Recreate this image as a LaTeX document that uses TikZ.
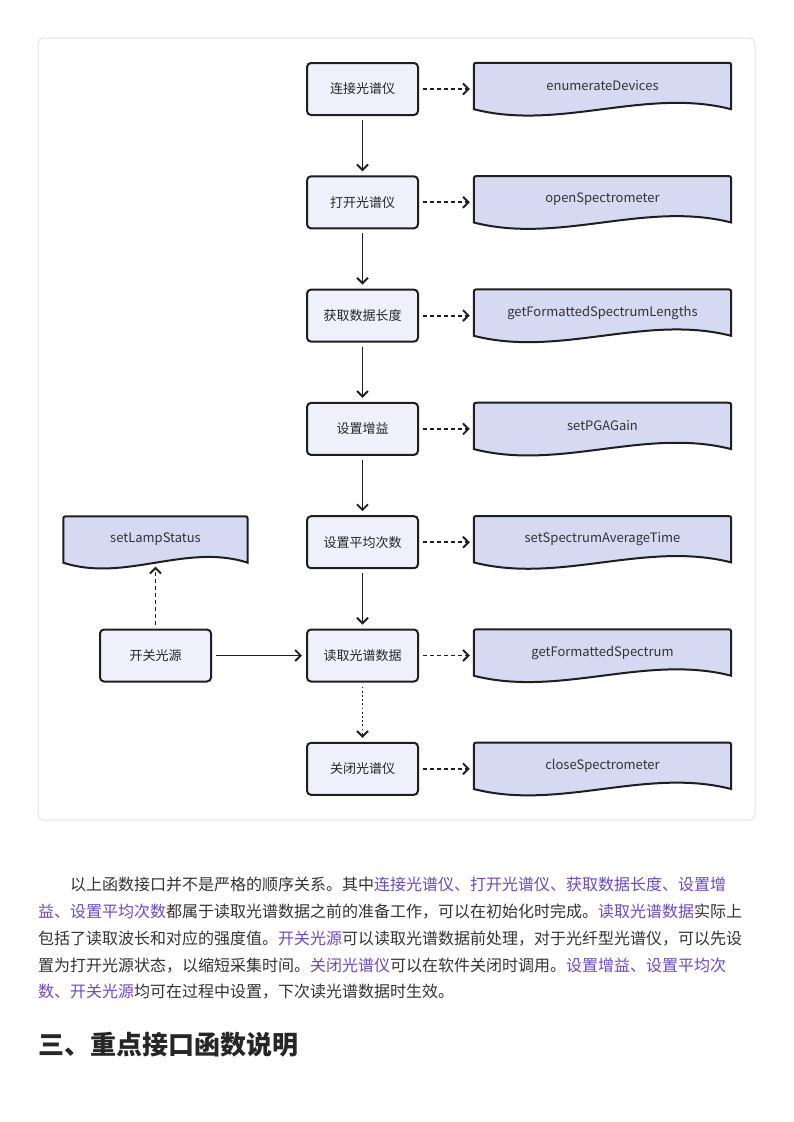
\documentclass[tikz,border=0pt]{standalone}
\usepackage{fontspec}
\setmainfont{Noto Sans CJK SC}
\usetikzlibrary{arrows.meta,backgrounds,calc}
\definecolor{procfill}{HTML}{EEF1FB}
\definecolor{docfill}{HTML}{D5DAF2}
\definecolor{edge}{HTML}{1E1E1E}
\definecolor{framegray}{HTML}{E4E4E4}
\definecolor{bodytext}{HTML}{333333}
\definecolor{hilite}{HTML}{6E48C8}
\newcommand{\hl}[1]{\textcolor{hilite}{#1}}
\newcommand{\wave}[2]{%
  \begin{pgfonlayer}{background}
    \path[docline] (#1.south west) -- ($(#1.north west)+(0,5)$)
      .. controls (#1.north west) .. ($(#1.north west)+(5,0)$)
      -- ($(#1.north east)+(-5,0)$)
      .. controls (#1.north east) .. ($(#1.north east)+(0,5)$)
      -- (#1.south east)
      .. controls ($(#1.south east)!1/3!(#1.south west)+(0,-#2)$)
      and ($(#1.south east)!2/3!(#1.south west)+(0,#2)$) .. (#1.south west)
      -- cycle;
  \end{pgfonlayer}}

\tikzset{node distance=113.3pt, auto,
  proc/.style={draw=edge, fill=procfill, line width=2pt, rounded corners=4pt,
    minimum width=111pt, minimum height=52pt, inner sep=0pt,
    font=\fontsize{13}{15}\selectfont, text=black!85},
  doc/.style={minimum width=257pt, minimum height=46pt, inner sep=0pt,
    font=\fontsize{13}{15}\selectfont, text=black!80},
  docline/.style={draw=edge, fill=docfill, line width=2pt},
  flow/.style={->, draw=edge, line width=1.9pt, shorten <=4pt, shorten >=4pt},
  call/.style={flow, dash pattern=on 4pt off 3pt},
  later/.style={flow, dash pattern=on 1.8pt off 2.4pt},
  para/.style={anchor=base west, inner sep=0pt, text=bodytext,
    font=\fontsize{16}{20}\selectfont},
  >={Straight Barb[length=5.5pt,width=11pt]}
}

\begin{document}
\begin{tikzpicture}[x=1pt, y=-1pt]
  \useasboundingbox (0,0) rectangle (793,1122);
  \begin{pgfonlayer}{background}
    \fill[white] (0,0) rectangle (793,1122);
  \end{pgfonlayer}
  \draw[framegray, line width=1pt, rounded corners=6pt] (38,38) rectangle (755,820);

  \node[proc] (connect) at (362.5,89) {连接光谱仪};
  \node[proc, below of=connect] (open) {打开光谱仪};
  \node[proc, below of=open] (length) {获取数据长度};
  \node[proc, below of=length] (gain) {设置增益};
  \node[proc, below of=gain] (average) {设置平均次数};
  \node[proc, below of=average] (read) {读取光谱数据};
  \node[proc, below of=read] (close) {关闭光谱仪};
  \node[proc, left of=read, node distance=207pt] (lamp) {开关光源};

  \node[doc, right of=connect, node distance=240pt, yshift=3pt] (enumerate) {enumerateDevices};
  \node[doc, right of=open, node distance=240pt, yshift=3pt] (openspec) {openSpectrometer};
  \node[doc, right of=length, node distance=240pt, yshift=3pt] (lengths) {getFormattedSpectrumLengths};
  \node[doc, right of=gain, node distance=240pt, yshift=3pt] (pgagain) {setPGAGain};
  \node[doc, right of=average, node distance=240pt, yshift=3pt] (avgtime) {setSpectrumAverageTime};
  \node[doc, right of=read, node distance=240pt, yshift=3pt] (spectrum) {getFormattedSpectrum};
  \node[doc, right of=close, node distance=240pt, yshift=3pt] (closespec) {closeSpectrometer};
  \node[doc, minimum width=184pt, above of=lamp, node distance=116pt] (lampstatus) {setLampStatus};

  \foreach \d in {enumerate, openspec, lengths, pgagain, avgtime, spectrum, closespec}
    \wave{\d}{22};
  \wave{lampstatus}{20};

  \draw[flow] (connect) -- (open);
  \draw[flow] (open) -- (length);
  \draw[flow] (length) -- (gain);
  \draw[flow] (gain) -- (average);
  \draw[flow] (average) -- (read);
  \draw[later] (read) -- (close);
  \draw[flow] (lamp) -- (read);
  \draw[call] (lamp.north) -- (lamp.north |- lampstatus.south);

  \draw[call] (connect.east) -- (connect.east -| enumerate.west);
  \draw[call] (open.east) -- (open.east -| openspec.west);
  \draw[call] (length.east) -- (length.east -| lengths.west);
  \draw[call] (gain.east) -- (gain.east -| pgagain.west);
  \draw[call] (average.east) -- (average.east -| avgtime.west);
  \draw[call] (read.east) -- (read.east -| spectrum.west);
  \draw[call] (close.east) -- (close.east -| closespec.west);

  \node[para] (line1) at (70,890) {以上函数接口并不是严格的顺序关系。其中\hl{连接光谱仪、打开光谱仪、获取数据长度、设置增}};
  \node[para] (line2) at (38,917) {\hl{益、设置平均次数}都属于读取光谱数据之前的准备工作，可以在初始化时完成。\hl{读取光谱数据}实际上};
  \node[para] (line3) at (38,944) {包括了读取波长和对应的强度值。\hl{开关光源}可以读取光谱数据前处理，对于光纤型光谱仪，可以先设};
  \node[para] (line4) at (38,971) {置为打开光源状态，以缩短采集时间。\hl{关闭光谱仪}可以在软件关闭时调用。\hl{设置增益、设置平均次}};
  \node[para] (line5) at (38,997) {\hl{数、开关光源}均可在过程中设置，下次读光谱数据时生效。};

  \node[anchor=base west, inner sep=0pt, text=black!85, font=\fontsize{26}{30}\selectfont\bfseries] (heading) at (38,1054) {三、重点接口函数说明};
\end{tikzpicture}
\end{document}
